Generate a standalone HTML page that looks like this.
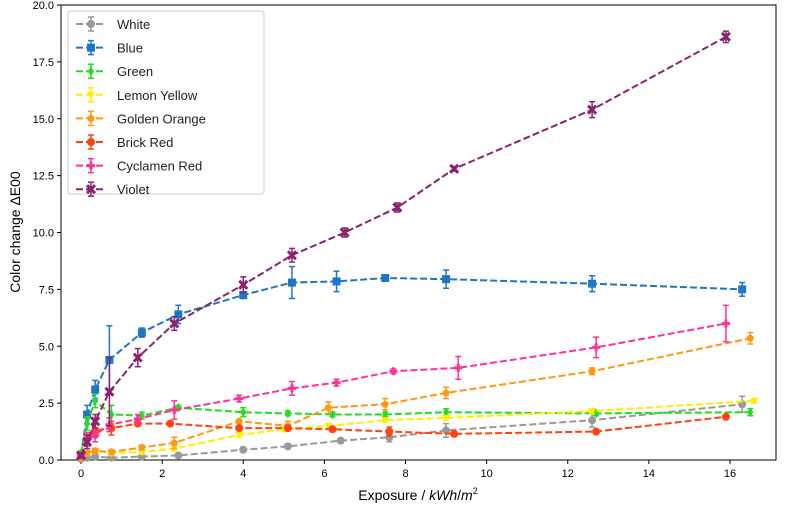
<!DOCTYPE html>
<html><head><meta charset="utf-8"><style>
body{margin:0;background:#fff;}
svg{display:block;font-family:"Liberation Sans","DejaVu Sans",sans-serif;}
</style></head><body>
<svg id="chart" width="796" height="508" viewBox="0 0 796 508" xmlns="http://www.w3.org/2000/svg"></svg>
<script>
const xTicks=[0,2,4,6,8,10,12,14,16];
const yTicks=[0,2.5,5,7.5,10,12.5,15,17.5,20];
const seriesNames=["White","Blue","Green","Lemon Yellow","Golden Orange","Brick Red","Cyclamen Red","Violet"];
const seriesColors=["#999999","#1f77c4","#22dd22","#ffee00","#ff9911","#ff4411","#ff3399","#8b2470"];
const seriesMarkers=["circle","square","diamond","tri","pent","circle","plus","x"];
const xWhite=[0,0.15,0.35,0.75,1.5,2.4,4,5.1,6.4,7.6,9,12.6,16.3];
const yWhite=[0.05,0.1,0.15,0.1,0.15,0.2,0.45,0.6,0.85,1.0,1.3,1.75,2.45];
const eWhite=[0.05,0.05,0.05,0.05,0.05,0.05,0.1,0.1,0.1,0.2,0.3,0.3,0.35];
const xBlue=[0,0.15,0.35,0.7,1.5,2.4,4,5.2,6.3,7.5,9,12.6,16.3];
const yBlue=[0.2,2.0,3.1,4.4,5.6,6.4,7.25,7.8,7.85,8.0,7.95,7.75,7.5];
const eBlue=[0.1,0.4,0.4,1.5,0.2,0.4,0.15,0.7,0.45,0.1,0.4,0.35,0.3];
const xGreen=[0,0.15,0.35,0.75,1.5,2.4,4,5.1,6.2,7.5,9,12.7,16.5];
const yGreen=[0.3,1.6,2.6,2.0,1.95,2.3,2.1,2.05,2.0,2.0,2.1,2.05,2.1];
const eGreen=[0.1,0.3,0.3,0.4,0.15,0.1,0.2,0.1,0.1,0.1,0.15,0.1,0.15];
const xLemon=[0,0.15,0.35,0.75,1.5,2.3,3.9,5,6.1,7.5,9,12.6,16.6];
const yLemon=[0.1,0.3,0.4,0.3,0.35,0.5,1.1,1.35,1.5,1.75,1.85,2.15,2.6];
const eLemon=[0.05,0.1,0.1,0.1,0.1,0.1,0.1,0.1,0.1,0.1,0.1,0.1,0.1];
const xGolden=[0,0.15,0.35,0.75,1.5,2.3,3.9,5.1,6.1,7.5,9,12.6,16.5];
const yGolden=[0.1,0.3,0.4,0.35,0.55,0.75,1.7,1.5,2.3,2.45,2.95,3.9,5.35];
const eGolden=[0.05,0.1,0.1,0.1,0.1,0.25,0.1,0.2,0.25,0.25,0.25,0.15,0.25];
const xBrick=[0,0.15,0.35,0.75,1.4,2.2,3.9,5.1,6.2,7.6,9.2,12.7,15.9];
const yBrick=[0.2,0.9,1.3,1.4,1.6,1.6,1.4,1.4,1.35,1.25,1.15,1.25,1.9];
const eBrick=[0.1,0.2,0.3,0.3,0.1,0.1,0.1,0.1,0.1,0.2,0.1,0.1,0.1];
const xCycl=[0,0.15,0.35,0.7,1.4,2.3,3.9,5.2,6.3,7.7,9.3,12.7,15.9];
const yCycl=[0.2,0.9,1.1,1.55,1.8,2.2,2.7,3.15,3.4,3.9,4.05,4.95,6.0];
const eCycl=[0.1,0.3,0.3,0.3,0.2,0.4,0.15,0.3,0.15,0.1,0.5,0.45,0.8];
const xViolet=[0,0.15,0.35,0.7,1.4,2.3,4,5.2,6.5,7.8,9.2,12.6,15.9];
const yViolet=[0.2,0.8,1.7,3.0,4.5,6.0,7.7,9.0,10.0,11.1,12.8,15.4,18.6];
const eViolet=[0.1,0.3,0.3,1.5,0.4,0.3,0.35,0.3,0.2,0.2,0.1,0.35,0.25];
const seriesX=[xWhite,xBlue,xGreen,xLemon,xGolden,xBrick,xCycl,xViolet];
const seriesY=[yWhite,yBlue,yGreen,yLemon,yGolden,yBrick,yCycl,yViolet];
const seriesE=[eWhite,eBlue,eGreen,eLemon,eGolden,eBrick,eCycl,eViolet];

const NS="http://www.w3.org/2000/svg";
const svg=document.getElementById('chart');
const L=61,R=776,T=5,B=460;
const X0=81,XS=(730-81)/16;
function sx(v){return X0+v*XS;}
function sy(v){return B-(v/20)*(B-T);}
function mk(tag,attrs,parent){const e=document.createElementNS(NS,tag);for(const k in attrs)e.setAttribute(k,attrs[k]);(parent||svg).appendChild(e);return e;}

const axes=mk('g',{});


const frame=mk('rect',{x:L,y:T,width:R-L,height:B-T,fill:'none',stroke:'#000','stroke-width':1},axes);


xTicks.forEach(t=>{
  const x=sx(t);
  mk('line',{x1:x,y1:B,x2:x,y2:B+4,stroke:'#000'},axes);
  const tx=mk('text',{x:x,y:B+17,'text-anchor':'middle','font-size':11,fill:'#000'},axes);
  tx.textContent=t;
  
  
});
yTicks.forEach(t=>{
  const y=sy(t);
  mk('line',{x1:L-4,y1:y,x2:L,y2:y,stroke:'#000'},axes);
  const tx=mk('text',{x:L-7,y:y+4,'text-anchor':'end','font-size':11,fill:'#000'},axes);
  tx.textContent=t.toFixed(1);
  
  
});
const xt=mk('text',{x:418,y:500,'text-anchor':'middle','font-size':14,fill:'#000'});
xt.innerHTML='Exposure /  <tspan font-style="italic">kWh</tspan>/<tspan font-style="italic">m</tspan><tspan font-size="9" dy="-6">2</tspan>';


const yt=mk('text',{x:0,y:0,'text-anchor':'middle','font-size':14,fill:'#000',transform:'translate(20,232) rotate(-90)'});
yt.textContent='Color change ΔE00';



function marker(g,shape,x,y,c,s){
  s=s||4;
  if(shape==='circle')return mk('circle',{cx:x,cy:y,r:s,fill:c},g);
  if(shape==='square')return mk('rect',{x:x-s,y:y-s,width:2*s,height:2*s,fill:c},g);
  if(shape==='diamond')return mk('polygon',{points:`${x},${y-s-1} ${x+s-1},${y} ${x},${y+s+1} ${x-s+1},${y}`,fill:c},g);
  if(shape==='tri')return mk('polygon',{points:`${x-s},${y-s+1} ${x+s},${y-s+1} ${x},${y+s}`,fill:c},g);
  if(shape==='pent'){let p=[];for(let i=0;i<5;i++){const a=-Math.PI/2+i*2*Math.PI/5;p.push((x+s*Math.cos(a))+','+(y+s*Math.sin(a)));}return mk('polygon',{points:p.join(' '),fill:c},g);}
  if(shape==='plus'){const gg=mk('g',{},g);mk('rect',{x:x-s,y:y-1.5,width:2*s,height:3,fill:c},gg);mk('rect',{x:x-1.5,y:y-s,width:3,height:2*s,fill:c},gg);return gg;}
  if(shape==='x'){const gg=mk('g',{},g);mk('line',{x1:x-s,y1:y-s,x2:x+s,y2:y+s,stroke:c,'stroke-width':3},gg);mk('line',{x1:x-s,y1:y+s,x2:x+s,y2:y-s,stroke:c,'stroke-width':3},gg);return gg;}
}

seriesNames.forEach((name,i)=>{
  const g=mk('g',{});
  
  
  const c=seriesColors[i],xs=seriesX[i],ys=seriesY[i],es=seriesE[i];
  const pts=xs.map((x,j)=>sx(x)+','+sy(ys[j])).join(' ');
  const pl=mk('polyline',{points:pts,fill:'none',stroke:c,'stroke-width':2,'stroke-dasharray':'7,3'},g);
  
  
  xs.forEach((x,j)=>{
    const px=sx(x),y1=sy(ys[j]-es[j]),y2=sy(ys[j]+es[j]);
    mk('line',{x1:px,y1:y1,x2:px,y2:y2,stroke:c,'stroke-width':1.5},g);
    mk('line',{x1:px-3,y1:y1,x2:px+3,y2:y1,stroke:c,'stroke-width':1.5},g);
    mk('line',{x1:px-3,y1:y2,x2:px+3,y2:y2,stroke:c,'stroke-width':1.5},g);
    const m=marker(g,seriesMarkers[i],px,sy(ys[j]),c);
    
    
  });
});

const lg=mk('g',{});


mk('rect',{x:68,y:11,width:196,height:183,rx:3,fill:'#fff','fill-opacity':0.85,stroke:'#ccc'},lg);
seriesNames.forEach((name,i)=>{
  const y=24+i*23.6,c=seriesColors[i];
  const e=mk('g',{},lg);
  
  
  mk('line',{x1:76,y1:y,x2:106,y2:y,stroke:c,'stroke-width':2,'stroke-dasharray':'7,3'},e);
  mk('line',{x1:91,y1:y-7,x2:91,y2:y+7,stroke:c,'stroke-width':1.5},e);
  mk('line',{x1:88,y1:y-7,x2:94,y2:y-7,stroke:c,'stroke-width':1.5},e);
  mk('line',{x1:88,y1:y+7,x2:94,y2:y+7,stroke:c,'stroke-width':1.5},e);
  marker(e,seriesMarkers[i],91,y,c);
  const t=mk('text',{x:117,y:y+5,'font-size':13,fill:'#222'},e);
  t.textContent=name;
});
</script>
</body></html>
